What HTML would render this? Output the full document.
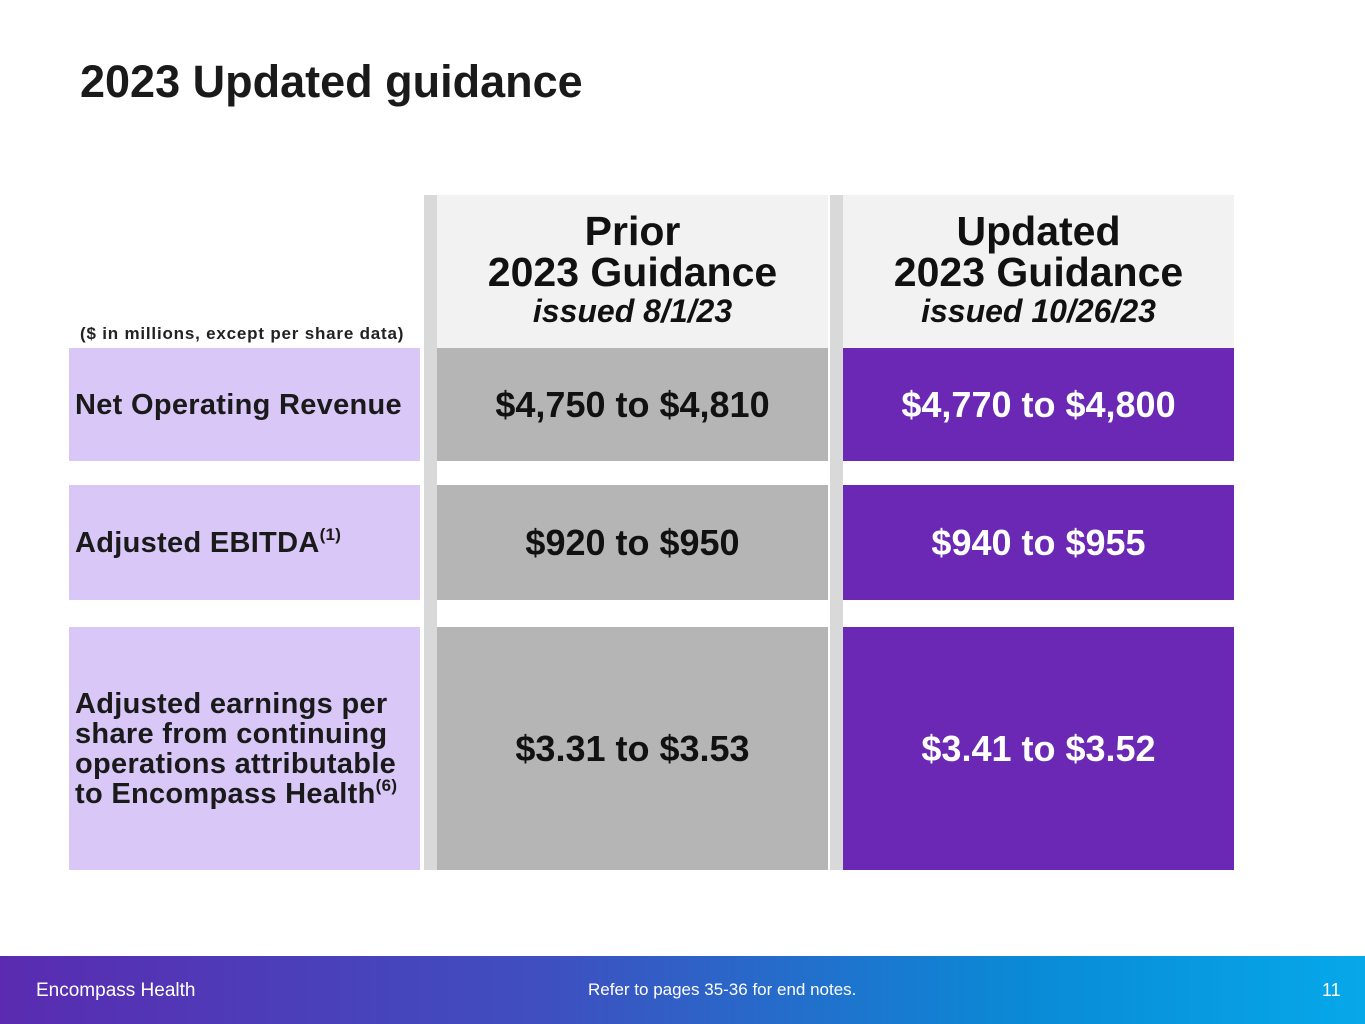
<!DOCTYPE html>
<html><head><meta charset="utf-8"><style>
body{margin:0;width:1365px;height:1024px;position:relative;overflow:hidden;background:#fff;font-family:"Liberation Sans",sans-serif;}
div{position:absolute;box-sizing:border-box;}
.c{display:flex;align-items:center;justify-content:center;font-weight:bold;font-size:36px;}
.l{display:flex;align-items:center;padding-left:6px;padding-right:4px;font-weight:bold;font-size:29px;color:#1a1a1a;background:#d9c8f7;line-height:30px;letter-spacing:0.3px;}
.l span{position:static;}
.g{background:#b5b5b5;color:#111;}
.p{background:#6a28b5;color:#fff;}
.h{background:#f2f2f2;text-align:center;font-weight:bold;color:#111;font-size:41px;line-height:41px;padding-top:16px;}
.h i{font-size:32px;display:block;line-height:36px;}
sup{font-size:17px;line-height:0;vertical-align:0;position:relative;top:-12px;}
</style></head><body>
<div style="left:80px;top:56px;font-size:45px;font-weight:bold;color:#1a1a1a;">2023 Updated guidance</div>
<div style="left:80px;top:324px;font-size:17px;font-weight:bold;color:#222;letter-spacing:0.8px;">($ in millions, except per share data)</div>
<div style="left:424px;top:195px;width:13px;height:675px;background:#d9d9d9;"></div>
<div style="left:830px;top:195px;width:13px;height:675px;background:#d9d9d9;"></div>
<div class="h" style="left:437px;top:195px;width:391px;height:153px;">Prior<br>2023 Guidance<i>issued 8/1/23</i></div>
<div class="h" style="left:843px;top:195px;width:391px;height:153px;">Updated<br>2023 Guidance<i>issued 10/26/23</i></div>

<div class="l" style="left:69px;top:348px;width:351px;height:113px;"><span>Net Operating Revenue</span></div>
<div class="c g" style="left:437px;top:348px;width:391px;height:113px;">$4,750 to $4,810</div>
<div class="c p" style="left:843px;top:348px;width:391px;height:113px;">$4,770 to $4,800</div>

<div class="l" style="left:69px;top:485px;width:351px;height:115px;"><span>Adjusted EBITDA<sup>(1)</sup></span></div>
<div class="c g" style="left:437px;top:485px;width:391px;height:115px;">$920 to $950</div>
<div class="c p" style="left:843px;top:485px;width:391px;height:115px;">$940 to $955</div>

<div class="l" style="left:69px;top:627px;width:351px;height:243px;"><span>Adjusted earnings per share from continuing operations attributable to Encompass Health<sup>(6)</sup></span></div>
<div class="c g" style="left:437px;top:627px;width:391px;height:243px;">$3.31 to $3.53</div>
<div class="c p" style="left:843px;top:627px;width:391px;height:243px;">$3.41 to $3.52</div>

<div style="left:0;top:956px;width:1365px;height:68px;background:linear-gradient(90deg,#5a2bb0 0%,#3f4fc0 40%,#0a8ad6 75%,#06a8ea 100%);color:#fff;">
<div style="left:36px;top:24px;font-size:19px;">Encompass Health</div>
<div style="left:588px;top:24px;font-size:17px;">Refer to pages 35-36 for end notes.</div>
<div style="left:1322px;top:24px;font-size:18px;">11</div>
</div>
</body></html>
